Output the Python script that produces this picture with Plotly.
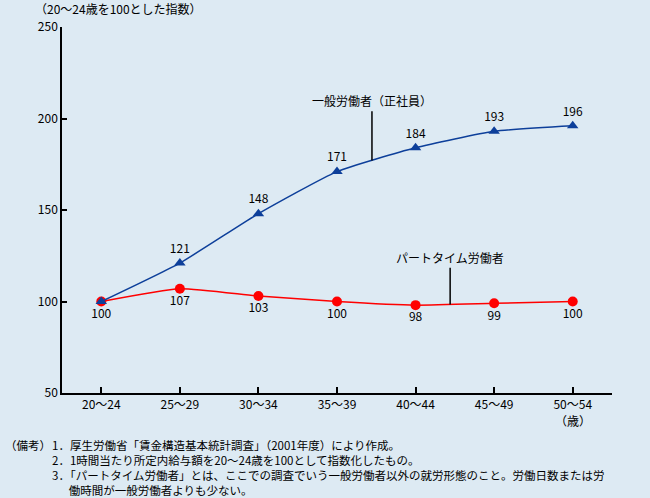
import plotly.graph_objects as go

# 年齢階級
ages = ['20～24', '25～29', '30～34', '35～39', '40～44', '45～49', '50～54']
# 一般労働者（正社員）
ippan = [100, 121, 148, 171, 184, 193, 196]
# パートタイム労働者
part = [100, 107, 103, 100, 98, 99, 100]

yticks = [50, 100, 150, 200, 250]

notes = [
    '1．厚生労働省「賃金構造基本統計調査」（2001年度）により作成。',
    '2．1時間当たり所定内給与額を20～24歳を100として指数化したもの。',
    '3．「パートタイム労働者」とは、ここでの調査でいう一般労働者以外の就労形態のこと。労働日数または労',
    '　  働時間が一般労働者よりも少ない。',
]

font = 'Noto Sans CJK JP'
bg = '#DDEAF3'
xs = list(range(len(ages)))

# プロット領域（ピクセル）
L, R, T, B = 62, 612, 27, 393


def px_x(p):
    return (p - L) / (R - L)


def px_y(p):
    return (B - p) / (B - T)


fig = go.Figure()

fig.add_trace(go.Scatter(
    x=xs, y=part, mode='lines+markers+text',
    line=dict(color='#FF0000', width=1.5, shape='spline', smoothing=0.5),
    marker=dict(symbol='circle', size=10, color='#FF0000'),
    text=[str(v) for v in part], textposition='bottom center',
    textfont=dict(size=12, color='black', family=font),
    cliponaxis=False, showlegend=False,
))
fig.add_trace(go.Scatter(
    x=xs, y=ippan, mode='lines+markers+text',
    line=dict(color='#0D3F9A', width=1.5, shape='spline', smoothing=0.5),
    marker=dict(symbol='triangle-up', size=10, color='#0D3F9A'),
    text=[''] + [str(v) for v in ippan[1:]], textposition='top center',
    textfont=dict(size=12, color='black', family=font),
    cliponaxis=False, showlegend=False,
))

# 系列ラベルと引き出し線
fig.add_shape(type='line', x0=3.445, x1=3.445, y0=177, y1=204,
              xref='x', yref='y', line=dict(color='black', width=1.5))
fig.add_annotation(x=3.445, y=204, xref='x', yref='y', yanchor='bottom',
                   text='一般労働者（正社員）', showarrow=False,
                   font=dict(size=12, color='black', family=font))
fig.add_shape(type='line', x0=4.44, x1=4.44, y0=98.3, y1=118.5,
              xref='x', yref='y', line=dict(color='black', width=1.5))
fig.add_annotation(x=4.44, y=118.5, xref='x', yref='y', yanchor='bottom',
                   text='パートタイム労働者', showarrow=False,
                   font=dict(size=12, color='black', family=font))

# 軸の単位
fig.add_annotation(x=px_x(33), y=px_y(9), xref='paper', yref='paper',
                   xanchor='left', yanchor='middle',
                   text='（20～24歳を100とした指数）', showarrow=False,
                   font=dict(size=12, color='black', family=font))
fig.add_annotation(x=6, y=px_y(420), xref='x', yref='paper', yanchor='middle',
                   text='（歳）', showarrow=False,
                   font=dict(size=12, color='black', family=font))

# 備考
fig.add_annotation(x=px_x(3), y=px_y(445), xref='paper', yref='paper', text='（備考）',
                   showarrow=False, xanchor='left', yanchor='middle',
                   font=dict(size=11.5, color='black', family=font))
fig.add_annotation(x=px_x(50), y=px_y(435), xref='paper', yref='paper',
                   text='<br>'.join(notes), align='left',
                   showarrow=False, xanchor='left', yanchor='top',
                   font=dict(size=11.5, color='black', family=font))

fig.update_xaxes(
    range=[-0.5, 6.5], tickvals=xs, ticktext=ages, automargin=False,
    showline=True, linecolor='black', linewidth=1.5,
    ticks='inside', ticklen=6, tickcolor='black', tickwidth=1.5,
    showgrid=False, zeroline=False,
    tickfont=dict(size=12, color='black', family=font),
)
fig.update_yaxes(
    range=[50, 250], tickvals=yticks, automargin=False,
    showline=True, linecolor='black', linewidth=1.5,
    ticks='inside', ticklen=5, tickcolor='black', tickwidth=1.5,
    showgrid=False, zeroline=False,
    tickfont=dict(size=12, color='black', family=font),
)
fig.update_layout(
    width=650, height=498,
    margin=dict(l=L, r=650 - R, t=T, b=498 - B),
    paper_bgcolor=bg, plot_bgcolor=bg,
    font=dict(family=font, color='black'),
)

# ページ余白をなくす
fig.write_html('out.html', config={'displayModeBar': False},
               post_script="document.body.style.margin='0';")
